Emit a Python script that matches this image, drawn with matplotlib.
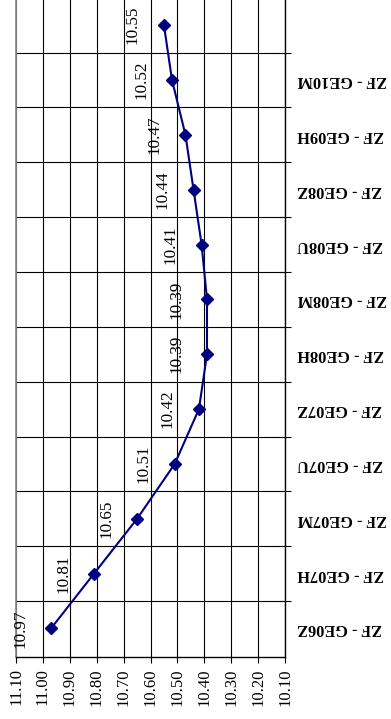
import matplotlib
matplotlib.use('Agg')
import matplotlib.pyplot as plt
from matplotlib.ticker import FixedLocator, NullFormatter
import numpy as np

plt.rcParams['font.family'] = ['Liberation Serif', 'DejaVu Serif']

categories = ['ZF - GE06Z', 'ZF - GE07H', 'ZF - GE07M', 'ZF - GE07U',
              'ZF - GE07Z', 'ZF - GE08H', 'ZF - GE08M', 'ZF - GE08U',
              'ZF - GE08Z', 'ZF - GE09H', 'ZF - GE10M', '']
values = [10.97, 10.81, 10.65, 10.51, 10.42, 10.39, 10.39, 10.41,
          10.44, 10.47, 10.52, 10.55]
value_ticks = [11.10, 11.00, 10.90, 10.80, 10.70, 10.60, 10.50,
               10.40, 10.30, 10.20, 10.10]

W, H = 391, 719
fig = plt.figure(figsize=(W / 100, H / 100), dpi=100)
ax = fig.add_axes([16 / W, (H - 657) / H, (285 - 16) / W, 657 / H])

pos = np.arange(len(categories))
ax.plot(values, pos, color='#000080', lw=1.5, marker='D', ms=6.2,
        markerfacecolor='#000080', markeredgecolor='#000080', zorder=3)

for v, p in zip(values, pos):
    ax.annotate(f'{v:.2f}', (v, p), xytext=(-16.5, 0), textcoords='offset points',
                rotation=90, ha='right', va='center', fontsize=12.3, color='black')

ax.set_xlim(11.10, 10.10)
ax.set_ylim(-0.52, 11.46)

# value axis (bottom)
ax.set_xticks(value_ticks)
ax.set_xticklabels([f'{t:.2f}' for t in value_ticks], rotation=90, fontsize=12)
ax.tick_params(axis='x', direction='out', length=4.3, width=0.8, pad=3.8, colors='black')

# category axis (right): ticks at boundaries, labels at centers
ax.yaxis.tick_right()
ax.yaxis.set_major_locator(FixedLocator(pos[:-1] + 0.5))
ax.yaxis.set_major_formatter(NullFormatter())
ax.yaxis.set_minor_locator(FixedLocator(pos))
ax.set_yticklabels(categories, minor=True, rotation=180, fontsize=11.8,
                   fontweight='bold', va='center')
ax.tick_params(axis='y', which='major', direction='inout', length=8, width=0.8)
ax.tick_params(axis='y', which='minor', length=0, pad=9)

ax.grid(True, which='major', axis='both', color='black', lw=0.8)
ax.set_axisbelow(True)

ax.spines['top'].set_visible(False)
ax.spines['left'].set_color('#8c8c8c')
ax.spines['left'].set_linewidth(1.3)
ax.spines['right'].set_linewidth(1.0)
ax.spines['bottom'].set_linewidth(1.0)

fig.savefig('out.png', dpi=100)
